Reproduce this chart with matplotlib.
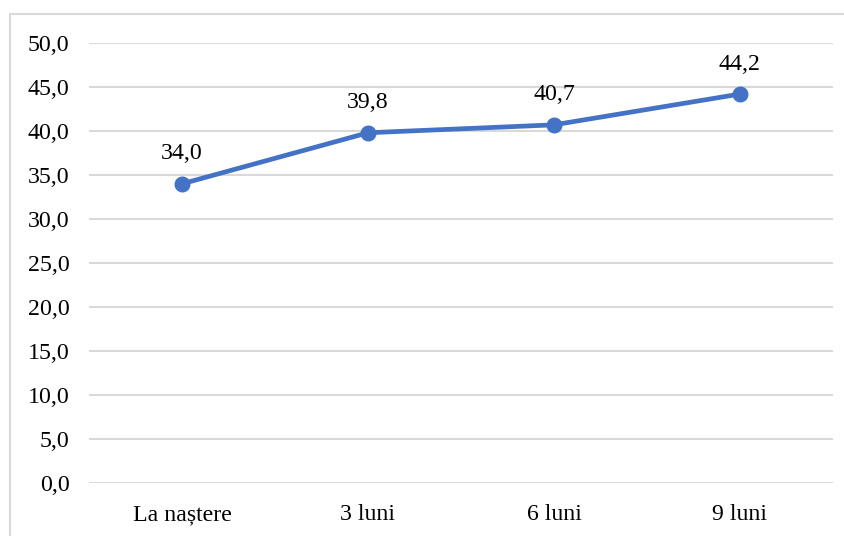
import matplotlib.pyplot as plt
from matplotlib.patches import Rectangle

plt.rcParams['font.family'] = ['Liberation Serif', 'DejaVu Serif']

categories = ['La naștere', '3 luni', '6 luni', '9 luni']
values = [34.0, 39.8, 40.7, 44.2]
y_ticks = [0, 5, 10, 15, 20, 25, 30, 35, 40, 45, 50]

W, H = 845, 536
fig = plt.figure(figsize=(W / 100, H / 100), dpi=100)
ax = fig.add_axes([89 / W, (H - 483) / H, (833 - 89) / W, (483 - 43) / H])

grid_color = '#d9d9d9'
line_color = '#4472c4'

x = list(range(len(categories)))
ax.plot(x, values, color=line_color, linewidth=3.4, marker='o', markersize=10.5,
        zorder=3, solid_capstyle='round')
for xi, v in zip(x, values):
    ax.annotate(f'{v:.1f}'.replace('.', ','), (xi, v), xytext=(0, 14),
                textcoords='offset points', ha='center', va='bottom',
                fontsize=17.2, color='#000000')

ax.set_xlim(-0.5, len(categories) - 0.5)
ax.set_ylim(0, 50)
ax.set_yticks(y_ticks)
ax.set_yticklabels([f'{t:.1f}'.replace('.', ',') for t in y_ticks])
ax.set_xticks(x)
ax.set_xticklabels(categories)
ax.tick_params(axis='both', length=0, labelsize=17.2, colors='#000000')
ax.tick_params(axis='y', pad=14)
ax.tick_params(axis='x', pad=15)
ax.grid(axis='y', color=grid_color, linewidth=1.5)
ax.set_axisbelow(True)
for s in ax.spines.values():
    s.set_visible(False)

# thin frame around the chart area
fig.patches.append(Rectangle((10 / W, -0.1), 1.2, (H - 14) / H + 0.1,
                             transform=fig.transFigure, fill=False,
                             edgecolor=grid_color, linewidth=1.5))

fig.savefig('out.png', dpi=100)
